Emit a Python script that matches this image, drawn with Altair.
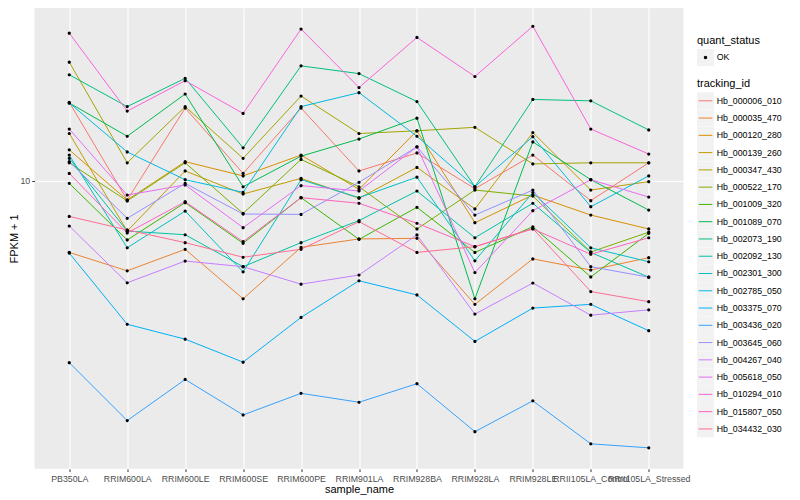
import altair as alt
import pandas as pd

samples = ["PB350LA", "RRIM600LA", "RRIM600LE", "RRIM600SE", "RRIM600PE", "RRIM901LA",
           "RRIM928BA", "RRIM928LA", "RRIM928LE", "RRII105LA_Control", "RRII105LA_Stressed"]

tracking_ids = ["Hb_000006_010", "Hb_000035_470", "Hb_000120_280", "Hb_000139_260",
                "Hb_000347_430", "Hb_000522_170", "Hb_001009_320", "Hb_001089_070",
                "Hb_002073_190", "Hb_002092_130", "Hb_002301_300", "Hb_002785_050",
                "Hb_003375_070", "Hb_003436_020", "Hb_003645_060", "Hb_004267_040",
                "Hb_005618_050", "Hb_010294_010", "Hb_015807_050", "Hb_034432_030"]

line_colors = ["#F8766D", "#EA8331", "#D89000", "#C09B00", "#A3A500", "#7CAE00", "#39B600",
               "#00BB4E", "#00BF7D", "#00C1A3", "#00BFC4", "#00BAE0", "#00B0F6", "#35A2FF",
               "#9590FF", "#C77CFF", "#E76BF3", "#FA62DB", "#FF62BC", "#FF6C91"]

# FPKM + 1 per sample (same order as samples)
hb_000006_010 = [18.3, 8.64, 17.5, 10.6, 17.5, 10.8, 12.4, 9.43, 12.2, 8.6, 11.5]
hb_000035_470 = [5.78, 5.02, 5.92, 4.05, 6.01, 6.41, 6.44, 3.88, 5.50, 5.05, 5.55]
hb_000120_280 = [12.7, 8.64, 11.6, 10.4, 12.2, 9.38, 14.7, 7.26, 8.98, 7.70, 6.92]
hb_000139_260 = [14.4, 6.81, 10.8, 9.05, 10.2, 8.76, 11.1, 8.07, 14.5, 9.33, 9.95]
hb_000347_430 = [24.9, 11.5, 17.7, 11.9, 19.2, 14.4, 14.7, 15.1, 11.4, 11.5, 11.5]
hb_000522_170 = [11.5, 8.58, 11.5, 7.80, 11.8, 9.57, 6.92, 9.33, 8.91, 5.80, 6.75]
hb_001009_320 = [9.82, 6.36, 8.47, 6.20, 8.80, 6.39, 8.17, 5.78, 7.04, 4.79, 6.69]
hb_001089_070 = [18.2, 14.1, 19.5, 9.57, 12.1, 13.8, 16.2, 4.05, 13.5, 10.1, 8.0]
hb_002073_190 = [22.6, 17.7, 22.0, 12.9, 24.2, 22.8, 18.4, 9.57, 18.7, 18.5, 14.8]
hb_002092_130 = [11.9, 6.81, 6.62, 5.18, 6.23, 7.38, 9.26, 6.47, 8.43, 5.78, 4.78]
hb_002301_300 = [12.2, 5.99, 7.94, 4.98, 10.1, 8.80, 10.3, 5.42, 9.15, 5.99, 5.38]
hb_002785_050 = [18.2, 12.5, 10.1, 9.17, 17.7, 19.7, 14.1, 9.57, 14.05, 8.21, 10.4]
hb_003375_070 = [5.75, 3.33, 2.97, 2.49, 3.51, 4.65, 4.17, 2.92, 3.77, 3.88, 3.17]
hb_003436_020 = [2.48, 1.59, 2.18, 1.66, 1.96, 1.83, 2.11, 1.46, 1.85, 1.33, 1.29]
hb_003645_060 = [11.6, 7.51, 9.82, 7.76, 7.74, 9.90, 13.0, 7.70, 9.33, 5.18, 4.78]
hb_004267_040 = [7.08, 4.58, 5.41, 5.18, 4.53, 4.86, 6.61, 3.60, 4.57, 3.57, 3.72]
hb_005618_050 = [14.9, 8.98, 9.70, 6.99, 9.65, 9.26, 13.0, 4.95, 7.96, 10.1, 8.84]
hb_010294_010 = [31.1, 17.1, 21.6, 16.8, 32.1, 20.5, 30.1, 22.3, 32.8, 14.9, 12.3]
hb_015807_050 = [10.6, 6.71, 8.53, 6.28, 8.80, 8.43, 7.23, 6.04, 6.92, 5.70, 6.47]
hb_034432_030 = [7.62, 6.87, 6.23, 5.57, 5.92, 7.32, 5.78, 6.04, 6.94, 4.28, 3.96]

series = [hb_000006_010, hb_000035_470, hb_000120_280, hb_000139_260, hb_000347_430,
          hb_000522_170, hb_001009_320, hb_001089_070, hb_002073_190, hb_002092_130,
          hb_002301_300, hb_002785_050, hb_003375_070, hb_003436_020, hb_003645_060,
          hb_004267_040, hb_005618_050, hb_010294_010, hb_015807_050, hb_034432_030]

rows = []
for tid, vals in zip(tracking_ids, series):
    for s, v in zip(samples, vals):
        rows.append({"sample_name": s, "fpkm": v, "tracking_id": tid,
                     "quant_status": "OK", "tid_bg": tid, "qs_bg": "OK"})
df = pd.DataFrame(rows)

FONT = "Liberation Sans"
LX = 662.5
ROWPAD = 0.27
KEY_GREY = "#F2F2F2"
SQUARE = "M-1,-1H1V1H-1Z"
LINE_KEY = "M-0.85,0H0.85M-1,-0.75M1,0.75"
DOT = "M-0.2,0A0.2,0.2 0 1,1 0.2,0A0.2,0.2 0 1,1 -0.2,0ZM-1,-1M1,1"


def legend(title, y, visible, size, stroke_w, **kw):
    return alt.Legend(orient="none", legendX=LX, legendY=y, title=title,
                      titleFont=FONT, titleFontSize=11, titleFontWeight="normal",
                      titleColor="black", titleOpacity=1 if visible else 0,
                      titlePadding=3, labelFont=FONT, labelFontSize=8.8,
                      labelColor="black", labelOpacity=1 if visible else 0,
                      labelOffset=2.7, symbolSize=size, symbolStrokeWidth=stroke_w,
                      rowPadding=ROWPAD, padding=0, zindex=3 if visible else 1, **kw)


x_enc = alt.X("sample_name:N", sort=samples,
              scale=alt.Scale(type="point", padding=0.6),
              axis=alt.Axis(title="sample_name", labelAngle=0, labelOverlap=False,
                            labelFont=FONT, labelFontSize=8.8, labelColor="#4D4D4D",
                            labelPadding=3, tickColor="#333333", tickSize=2.75,
                            tickWidth=1, domain=False, grid=True, gridColor="white",
                            gridWidth=1.1, titleFont=FONT, titleFontSize=11,
                            titleFontWeight="normal", titleColor="black", titlePadding=0))
y_enc = alt.Y("fpkm:Q",
              scale=alt.Scale(type="log", domain=[1.0981, 37.73], nice=False, zero=False),
              axis=alt.Axis(title="FPKM + 1", values=[10], format="d",
                            labelFont=FONT, labelFontSize=8.8, labelColor="#4D4D4D",
                            labelPadding=2, tickColor="#333333", tickSize=2.75,
                            tickWidth=1, domain=False, grid=True, gridColor="white",
                            gridWidth=1.1, titleFont=FONT, titleFontSize=11,
                            titleFontWeight="normal", titleColor="black", titlePadding=0.5))

tid_bg = alt.Chart(df).transform_filter("false").mark_square(filled=True, opacity=1).encode(
    x=x_enc, y=y_enc,
    fill=alt.Fill("tid_bg:N",
                  scale=alt.Scale(domain=tracking_ids, range=[KEY_GREY] * len(tracking_ids)),
                  legend=legend("tracking_id", 70.3, False, 289, 0, symbolType=SQUARE,
                                symbolOpacity=1)),
)

qs_bg = alt.Chart(df).transform_filter("false").mark_square(filled=True, opacity=1).encode(
    x=x_enc, y=y_enc,
    fill=alt.Fill("qs_bg:N",
                  scale=alt.Scale(domain=["OK"], range=[KEY_GREY]),
                  legend=legend("quant_status", 27, False, 289, 0, symbolType=SQUARE,
                                symbolOpacity=1)),
)

lines = alt.Chart(df).mark_line(strokeWidth=1).encode(
    x=x_enc, y=y_enc,
    color=alt.Color("tracking_id:N",
                    scale=alt.Scale(domain=tracking_ids, range=line_colors),
                    legend=legend("tracking_id", 70.3, True, 256, 1, symbolType=LINE_KEY)),
)

points = alt.Chart(df).mark_point(filled=True, size=256, color="black", opacity=1,
                                  strokeWidth=0).encode(
    x=x_enc, y=y_enc,
    shape=alt.Shape("quant_status:N",
                    scale=alt.Scale(domain=["OK"], range=[DOT]),
                    legend=legend("quant_status", 27, True, 289, 0,
                                  symbolFillColor="black")),
)

chart = alt.layer(tid_bg, qs_bg, lines, points).resolve_scale(
    fill="independent").resolve_legend(fill="independent").properties(
    width=649, height=460.8,
    autosize=alt.AutoSizeParams(type="none"),
    padding={"left": 26.5, "top": 0, "right": 108, "bottom": 31},
    background="white",
).configure_view(fill="#EBEBEB", stroke=None)

chart.save("out.html", embed_options={"renderer": "svg", "actions": False})
